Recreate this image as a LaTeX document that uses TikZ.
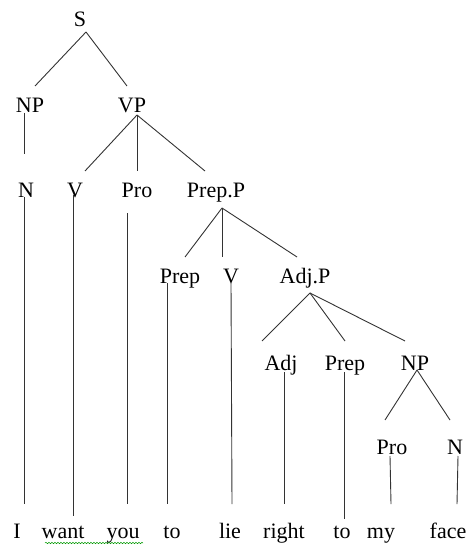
\documentclass[tikz,border=0pt]{standalone}
\usepackage{fontspec}
\setmainfont{Liberation Serif}
\usetikzlibrary{calc,decorations.pathmorphing}
\begin{document}
\begin{tikzpicture}[x=1pt,y=-1pt,
  lbl/.style={anchor=base,inner sep=0pt,font=\fontsize{22}{26}\selectfont},
  edge/.style={line width=0.9pt,draw=black!80}]
\useasboundingbox (0,0) rectangle (470,545);
% nodes
\node[lbl] (S) at (80,27) {S};
\node[lbl] (NPa) at (30,113) {NP};
\node[lbl] (VP) at (132,113) {VP};
\node[lbl] (Na) at (26,197) {N};
\node[lbl] (Va) at (75,197) {V};
\node[lbl] (Proa) at (137,197) {Pro};
\node[lbl] (PrepP) at (216,197) {Prep.P};
\node[lbl] (Prepa) at (180,283) {Prep};
\node[lbl] (Vb) at (231,283) {V};
\node[lbl] (AdjP) at (305,283) {Adj.P};
\node[lbl] (Adj) at (281,370) {Adj};
\node[lbl] (Prepb) at (345,370) {Prep};
\node[lbl] (NPb) at (415,370) {NP};
\node[lbl] (Prob) at (392,454) {Pro};
\node[lbl] (Nb) at (455,454) {N};
% words
\node[lbl] (wI) at (17,538) {I};
\node[lbl] (wwant) at (63,538) {want};
\node[lbl] (wyou) at (123,538) {you};
\node[lbl] (wtoa) at (172,538) {to};
\node[lbl] (wlie) at (230,538) {lie};
\node[lbl] (wright) at (284,538) {right};
\node[lbl] (wtob) at (342,538) {to};
\node[lbl] (wmy) at (381,538) {my};
\node[lbl] (wface) at (448,538) {face};
% connectors
\draw[edge] ($(S.base)+(6,5)$) -- ($(NPa.base)+(5,-27)$);
\draw[edge] ($(S.base)+(6,5)$) -- ($(VP.base)+(-5,-27)$);
\draw[edge] ($(NPa.base)+(-6,0)$) -- ($(Na.base)+(-2,-43)$);
\draw[edge] ($(VP.base)+(5,2)$) -- ($(Va.base)+(10,-26)$);
\draw[edge] ($(VP.base)+(5,2)$) -- ($(Proa.base)+(0,-26)$);
\draw[edge] ($(VP.base)+(5,2)$) -- ($(PrepP.base)+(-11,-26)$);
\draw[edge] ($(PrepP.base)+(6,11)$) -- ($(Prepa.base)+(5,-26)$);
\draw[edge] ($(PrepP.base)+(6,11)$) -- ($(Vb.base)+(-9,-26)$);
\draw[edge] ($(PrepP.base)+(6,11)$) -- ($(AdjP.base)+(-8,-26)$);
\draw[edge] ($(AdjP.base)+(5,10)$) -- ($(Adj.base)+(-19,-29)$);
\draw[edge] ($(AdjP.base)+(5,10)$) -- ($(Prepb.base)+(0,-29)$);
\draw[edge] ($(AdjP.base)+(5,10)$) -- ($(NPb.base)+(-10,-29)$);
\draw[edge] ($(NPb.base)+(2,0)$) -- ($(Prob.base)+(-7,-34)$);
\draw[edge] ($(NPb.base)+(2,0)$) -- ($(Nb.base)+(-5,-34)$);
% verticals to words
\draw[edge] ($(Na.base)+(-2,0)$) -- ($(wI.base)+(7,-34)$);
\draw[edge] ($(Va.base)+(-2,-2)$) -- ($(wwant.base)+(10,-22)$);
\draw[edge] ($(Proa.base)+(-10,16)$) -- ($(wyou.base)+(4,-34)$);
\draw[edge] ($(Prepa.base)+(-13,0)$) -- ($(wtoa.base)+(-5,-34)$);
\draw[edge] ($(Vb.base)+(0,0)$) -- ($(wlie.base)+(2,-34)$);
\draw[edge] ($(Adj.base)+(3,2)$) -- ($(wright.base)+(0,-34)$);
\draw[edge] ($(Prepb.base)+(-1,2)$) -- ($(wtob.base)+(2,-19)$);
\draw[edge] ($(Prob.base)+(-2,2)$) -- ($(wmy.base)+(10,-34)$);
\draw[edge] ($(Nb.base)+(3,2)$) -- ($(wface.base)+(9,-34)$);
% spell-check underline
\draw[green!60!black,line width=0.5pt,decorate,decoration={snake,amplitude=0.7pt,segment length=3pt}]
  ($(wwant.base)+(-18,5)$) -- ($(wyou.base)+(20,5)$);
\end{tikzpicture}
\end{document}
